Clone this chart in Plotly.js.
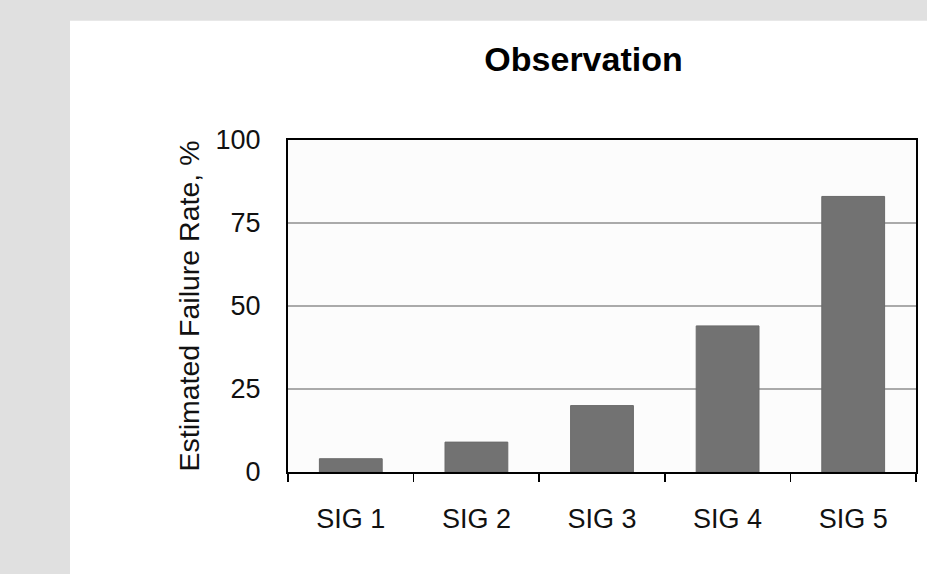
<!DOCTYPE html>
<html>
<head>
<meta charset="utf-8">
<script src="https://cdn.plot.ly/plotly-3.0.1.min.js"></script>
<style>html,body{margin:0;padding:0;background:#fff;}#chart{width:927px;height:574px;}</style>
</head>
<body>
<div id="chart"></div>
<script>
const categories = ["SIG 1", "SIG 2", "SIG 3", "SIG 4", "SIG 5"];
const failureRate = [4, 9, 20, 44, 83];
const yTickVals = [0, 25, 50, 75, 100];
const chartTitle = "Observation";
const yAxisTitle = "Estimated Failure Rate, %";

const font = "Liberation Sans, Arial, Helvetica, sans-serif";

const trace = {
  type: "bar",
  x: categories,
  y: failureRate,
  marker: {color: "#727272", line: {color: "#6a6a6a", width: 1}},
  hoverinfo: "x+y"
};

const layout = {
  width: 927, height: 574,
  paper_bgcolor: "#ffffff",
  plot_bgcolor: "#fcfcfc",
  margin: {l: 288, r: 11, t: 140, b: 102, pad: 0},
  showlegend: false,
  bargap: 0.5,
  title: {
    text: "<b>" + chartTitle + "</b>",
    font: {family: font, size: 34, color: "#000"},
    xref: "container", x: 0.6295, xanchor: "center",
    yref: "container", y: 0.897, yanchor: "middle"
  },
  xaxis: {
    type: "category",
    showline: true, linecolor: "#000", linewidth: 2, mirror: true,
    ticks: "outside", tickson: "boundaries", ticklen: 8, tickwidth: 1.5, tickcolor: "#000",
    showgrid: false, zeroline: false,
    tickfont: {family: font, size: 27, color: "#111"},
    ticklabelstandoff: 22
  },
  yaxis: {
    range: [0, 100], tickvals: yTickVals, ticktext: yTickVals.map(String),
    showline: true, linecolor: "#000", linewidth: 2, mirror: true,
    ticks: "", showgrid: true, gridcolor: "#aaaaaa", gridwidth: 1.2, zeroline: false,
    tickfont: {family: font, size: 27, color: "#111"},
    ticklabelstandoff: 20,
    title: {text: yAxisTitle, font: {family: font, size: 28.5, color: "#111"}, standoff: 8}
  },
  shapes: [
    {type: "rect", xref: "paper", yref: "paper", x0: -1, x1: -0.3471, y0: -1, y1: 2,
     fillcolor: "#e0e0e0", line: {width: 0}, layer: "below"},
    {type: "rect", xref: "paper", yref: "paper", x0: -1, x1: 2, y0: 1.3589, y1: 2,
     fillcolor: "#e0e0e0", line: {width: 0}, layer: "below"}
  ]
};

Plotly.newPlot("chart", [trace], layout, {displayModeBar: false, staticPlot: true});
</script>
</body>
</html>
